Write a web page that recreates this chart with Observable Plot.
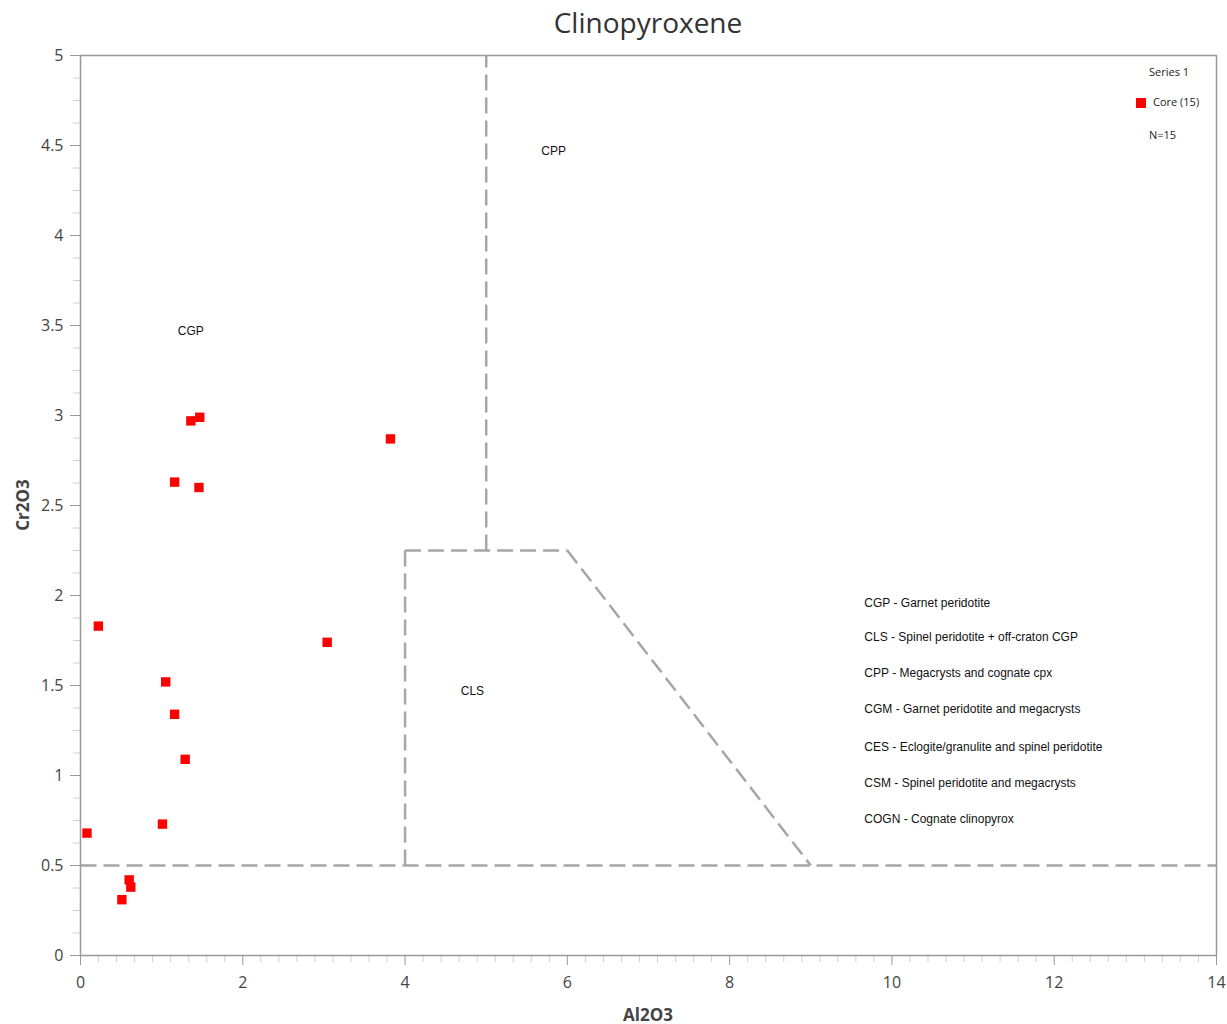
<!DOCTYPE html>
<html><head><meta charset="utf-8">
<script src="https://cdn.jsdelivr.net/npm/d3@7"></script>
<script src="https://cdn.jsdelivr.net/npm/@observablehq/plot@0.6"></script>
<style>
body{margin:0;background:#fff;}
#wrap{position:relative;width:1227px;height:1024px;}
#title{position:absolute;left:80px;width:1136px;top:3px;text-align:center;font:28px "Open Sans",sans-serif;color:#333;}
#ylab{position:absolute;left:22px;top:505px;transform:translate(-50%,-50%) rotate(-90deg);font:bold 17px "Open Sans",sans-serif;color:#444;white-space:nowrap;}
#xlab{position:absolute;left:648px;top:1014px;transform:translate(-50%,-50%);font:bold 17px "Open Sans",sans-serif;color:#444;white-space:nowrap;}
#legend{position:absolute;left:1130px;top:62px;font:11px "Open Sans",sans-serif;color:#222;}
#legend div{position:absolute;white-space:nowrap;}
.sw{display:inline-block;width:10px;height:10px;background:#ff0000;}
</style>
</head><body>
<div id="wrap">
<div id="title"></div>
<div id="ylab"></div>
<div id="xlab"></div>
<div id="legend"></div>
</div>
<script>
const title = "Clinopyroxene";
const xLabel = "Al2O3";
const yLabel = "Cr2O3";
const xTicks = [0, 2, 4, 6, 8, 10, 12, 14];
const yTicks = [0, 0.5, 1, 1.5, 2, 2.5, 3, 3.5, 4, 4.5, 5];

// Core analyses (15)
const al2o3 = [0.08, 0.22, 0.51, 0.60, 0.62, 1.01, 1.05, 1.16, 1.29, 1.16, 1.36, 1.47, 1.46, 3.04, 3.82];
const cr2o3 = [0.68, 1.83, 0.31, 0.42, 0.38, 0.73, 1.52, 1.34, 1.09, 2.63, 2.97, 2.99, 2.60, 1.74, 2.87];

// Classification field boundaries
const bx1 = [0, 4, 4, 5, 6];
const by1 = [0.5, 0.5, 2.25, 2.25, 2.25];
const bx2 = [14, 4, 6, 5, 9];
const by2 = [0.5, 2.25, 2.25, 5, 0.5];

// Field labels
const fieldNames = ["CPP", "CGP", "CLS"];
const fieldX = [5.83, 1.36, 4.83];
const fieldY = [4.47, 3.47, 1.47];

// Notes
const notes = [
  "CGP - Garnet peridotite",
  "CLS - Spinel peridotite + off-craton CGP",
  "CPP - Megacrysts and cognate cpx",
  "CGM - Garnet peridotite and megacrysts",
  "CES - Eclogite/granulite and spinel peridotite",
  "CSM - Spinel peridotite and megacrysts",
  "COGN - Cognate clinopyrox"
];
const noteX = 9.66;
const noteY = [1.96, 1.77, 1.57, 1.37, 1.16, 0.96, 0.76];

const legendTitle = "Series 1";
const seriesName = "Core (15)";
const nLabel = "N=15";

const points = al2o3.map((x, i) => ({x, y: cr2o3[i]}));
const segs = bx1.map((x, i) => ({x1: x, y1: by1[i], x2: bx2[i], y2: by2[i]}));
const fields = fieldNames.map((n, i) => ({n, x: fieldX[i], y: fieldY[i]}));
const noteRows = notes.map((t, i) => ({t, x: noteX, y: noteY[i]}));

const xMinor = [];
for (let i = 0; i < xTicks.length - 1; i++) for (let k = 1; k < 9; k++) xMinor.push(xTicks[i] + k * (xTicks[i+1] - xTicks[i]) / 9);
const yMinor = [];
for (let i = 0; i < yTicks.length - 1; i++) for (let k = 1; k < 4; k++) yMinor.push(yTicks[i] + k * (yTicks[i+1] - yTicks[i]) / 4);

const chart = Plot.plot({
  width: 1227, height: 1024,
  marginLeft: 80, marginRight: 11, marginTop: 55, marginBottom: 69,
  style: {fontFamily: "'Open Sans', sans-serif", background: "#fff"},
  x: {domain: [0, 14]},
  y: {domain: [0, 5]},
  marks: [
    Plot.axisY({ticks: yMinor, tickSize: 7, text: null, label: null, stroke: "#d0d0d0"}),
    Plot.axisX({ticks: xMinor, tickSize: 7, text: null, label: null, stroke: "#d0d0d0"}),
    Plot.axisY({ticks: yTicks, tickSize: 10, tickPadding: 7, fontSize: 16, label: null, stroke: "#999", fill: "#444", tickFormat: d => String(d)}),
    Plot.axisX({ticks: xTicks, tickSize: 10, tickPadding: 11, fontSize: 16, label: null, stroke: "#999", fill: "#444", tickFormat: d => String(d)}),
    Plot.frame({stroke: "#999", strokeWidth: 1.5}),
    Plot.link(segs, {x1: "x1", y1: "y1", x2: "x2", y2: "y2", stroke: "#a6a6a6", strokeWidth: 2.5, strokeDasharray: "16,7"}),
    Plot.text(fields, {x: "x", y: "y", text: "n", fontSize: 12, fill: "#111", fontFamily: "'Liberation Sans', Arial, sans-serif"}),
    Plot.text(noteRows, {x: "x", y: "y", text: "t", textAnchor: "start", fontSize: 12, fill: "#111", fontFamily: "'Liberation Sans', Arial, sans-serif"}),
    Plot.dot(points, {x: "x", y: "y", symbol: "square", r: 5.3, fill: "#ff0000", stroke: null})
  ]
});
document.getElementById("wrap").prepend(chart);
chart.style.position = "absolute"; chart.style.left = "0"; chart.style.top = "0";
document.getElementById("title").textContent = title;
document.getElementById("ylab").textContent = yLabel;
document.getElementById("xlab").textContent = xLabel;
const lg = document.getElementById("legend");
lg.innerHTML = `<div style="left:19px;top:2px">${legendTitle}</div>
<div style="left:6px;top:34px"><span class="sw"></span></div>
<div style="left:23px;top:32px">${seriesName}</div>
<div style="left:19px;top:65px">${nLabel}</div>`;
</script>
</body></html>
